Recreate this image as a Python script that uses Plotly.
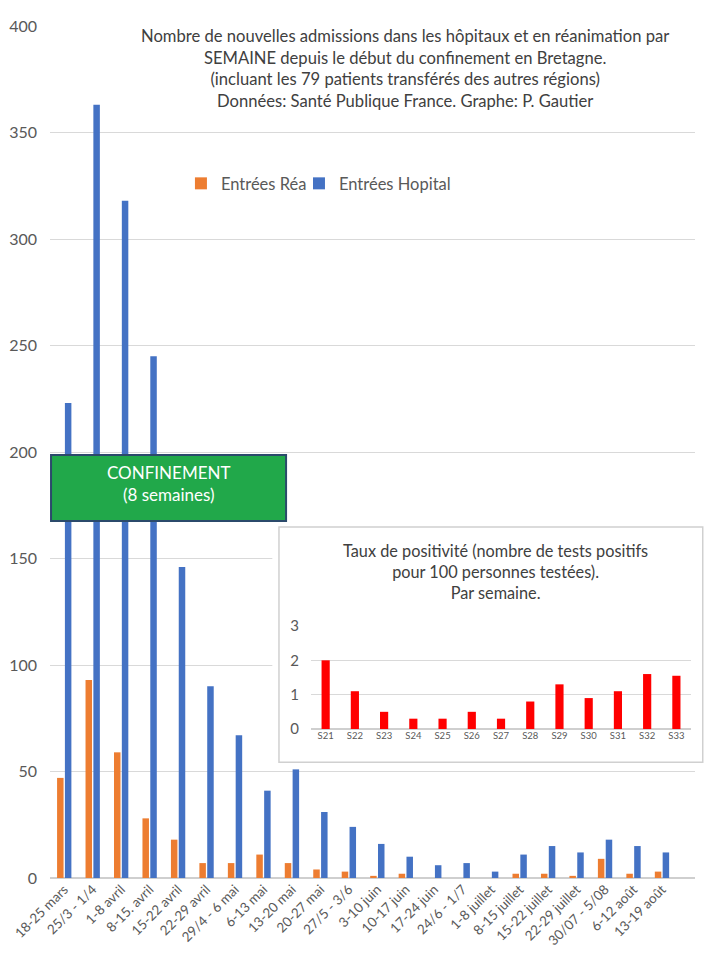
import plotly.graph_objects as go

# Semaines depuis le début du confinement
semaines = ["18-25 mars", "25/3 - 1/4", "1-8 avril", "8-15. avril", "15-22 avril",
            "22-29 avril", "29/4 - 6 mai", "6-13 mai", "13-20 mai", "20-27 mai",
            "27/5 - 3/6", "3-10 juin", "10-17 juin", "17-24 juin", "24/6 - 1/7",
            "1-8 juillet", "8-15 juillet", "15-22 juillet", "22-29 juillet",
            "30/07 - 5/08", "6-12 août", "13-19 août"]
entrees_rea = [47, 93, 59, 28, 18, 7, 7, 11, 7, 4, 3, 1, 2, 0, 0, 0, 2, 2, 1, 9, 2, 3]
entrees_hopital = [223, 363, 318, 245, 146, 90, 67, 41, 51, 31, 24, 16, 10, 6, 7, 3, 11, 15, 12, 18, 15, 12]

# Encart: taux de positivité
semaines_num = ["S21", "S22", "S23", "S24", "S25", "S26", "S27", "S28", "S29", "S30", "S31", "S32", "S33"]
taux_positivite = [2.0, 1.1, 0.5, 0.3, 0.3, 0.5, 0.3, 0.8, 1.3, 0.9, 1.1, 1.6, 1.55]

FONT = "Lato, 'Noto Sans', sans-serif"
GRID = "#D9D9D9"
TXT = "#595959"

fig = go.Figure()

fig.add_trace(go.Bar(x=semaines, y=entrees_rea, name="Entrées Réa",
                     marker=dict(color="#ED7D31", line=dict(width=0))))
fig.add_trace(go.Bar(x=semaines, y=entrees_hopital, name="Entrées Hopital", legend="legend2",
                     marker=dict(color="#4472C4", line=dict(width=0))))

fig.add_trace(go.Bar(x=semaines_num, y=taux_positivite, xaxis="x2", yaxis="y2",
                     width=0.28, marker=dict(color="#FF0000", line=dict(width=0)),
                     showlegend=False))

# helpers: paper fraction -> main axis data coords (for the inset background)
n = len(semaines)
def px(f):
    return -0.5 + f * n
def py(f):
    return f * 400

shapes = [
    # fond blanc de l'encart, au-dessus des grilles principales
    dict(type="rect", xref="x", yref="y", layer="between",
         x0=px(0.355), x1=px(1.03), y0=py(0.136), y1=py(0.412),
         fillcolor="white", line=dict(width=0)),
    # cadre de l'encart
    dict(type="rect", xref="paper", yref="paper", layer="above",
         x0=0.355, x1=1.012, y0=0.136, y1=0.412,
         fillcolor="rgba(0,0,0,0)", line=dict(color="#D0D0D0", width=1.5)),
    # bandeau confinement
    dict(type="rect", xref="paper", yref="paper", layer="above",
         x0=0.0016, x1=0.366, y0=0.419, y1=0.4965,
         fillcolor="#21A84A", line=dict(color="#2B4A6B", width=2)),
]

annotations = [
    dict(text="Nombre de nouvelles admissions dans les hôpitaux et en réanimation par<br>"
              "SEMAINE depuis le début du confinement en Bretagne.<br>"
              "(incluant les 79 patients transférés des autres régions)<br>"
              "Données: Santé Publique France. Graphe: P. Gautier",
         xref="paper", yref="paper", x=0.55, y=0.9507, showarrow=False,
         xanchor="center", yanchor="middle", font=dict(family=FONT, size=16.6, color="#404040")),
    dict(text="CONFINEMENT<br>(8 semaines)", xref="paper", yref="paper",
         x=0.184, y=0.4636, showarrow=False, xanchor="center", yanchor="middle",
         font=dict(family=FONT, size=17, color="white")),
    dict(text="Taux de positivité (nombre de tests positifs<br>pour 100 personnes testées).<br>Par semaine.",
         xref="paper", yref="paper", x=0.69, y=0.3597, showarrow=False,
         xanchor="center", yanchor="middle", font=dict(family=FONT, size=16.3, color="#404040")),
]

legend_style = dict(orientation="h", y=0.815, xanchor="left", yanchor="middle",
                    bgcolor="rgba(0,0,0,0)", font=dict(size=16.5, color=TXT), itemwidth=30)

# the page adds an 8px body margin, so the figure is smaller than the window
fig.update_layout(
    width=704, height=944,
    margin=dict(l=42, r=17, t=18, b=74),
    paper_bgcolor="white", plot_bgcolor="white",
    font=dict(family=FONT, color=TXT),
    barmode="group", bargap=0.45, bargroupgap=0.17,
    showlegend=True,
    legend=dict(x=0.203, **legend_style),
    legend2=dict(x=0.386, **legend_style),
    xaxis=dict(type="category", categoryorder="array", categoryarray=semaines,
               tickangle=-45, showgrid=False, showline=False, ticks="",
               tickfont=dict(size=13.5, color=TXT), automargin=False),
    yaxis=dict(range=[0, 400], dtick=50, showgrid=True, gridcolor=GRID, gridwidth=1,
               zeroline=True, zerolinecolor="#CFCFCF", zerolinewidth=1.5,
               showline=False, ticks="", ticklabelstandoff=12,
               tickfont=dict(size=16, color=TXT), automargin=False),
    xaxis2=dict(type="category", domain=[0.4047, 0.9938], anchor="y2",
                showgrid=False, showline=False, ticks="",
                tickfont=dict(size=9.5, color=TXT), automargin=False),
    yaxis2=dict(domain=[0.1749, 0.2958], anchor="x2", range=[0, 3], dtick=1,
                showgrid=True, gridcolor=GRID, zeroline=True, zerolinecolor="#CFCFCF",
                showline=False, ticks="", ticklabelstandoff=11,
                tickfont=dict(size=15, color=TXT), automargin=False),
    shapes=shapes,
    annotations=annotations,
)

fig.write_html("out.html")
